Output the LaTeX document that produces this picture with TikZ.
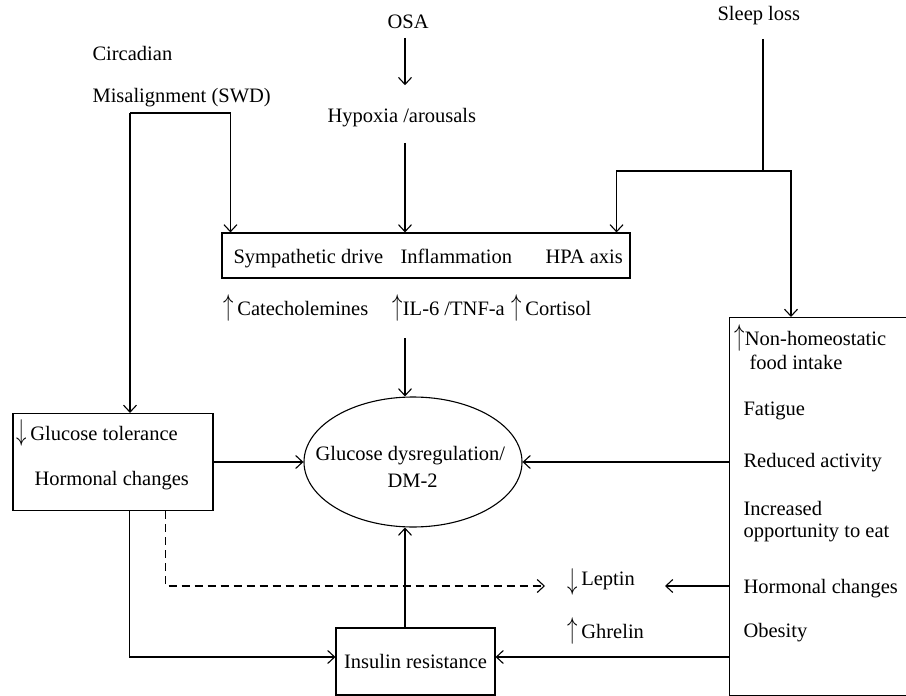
\documentclass[tikz,border=0pt]{standalone}
\usepackage{fontspec}
\setmainfont{Liberation Serif}
\usetikzlibrary{arrows.meta,shapes.geometric}

\newcommand\uparr{\scalebox{1}[1.45]{$\uparrow$}}
\newcommand\dnarr{\scalebox{1}[1.45]{$\downarrow$}}

\begin{document}
\begin{tikzpicture}[x=1pt,y=-1pt,
    font=\fontsize{20.5}{27}\selectfont,
    line width=1.1pt,
    arr/.style={-{Straight Barb[length=7pt,width=13pt]}},
    box/.style={draw,rectangle,inner sep=0pt}]

  \useasboundingbox (0,0) rectangle (906,696);

  % boxes and the ellipse
  \begin{scope}[every node/.style={box}]
    \node[minimum width=408, minimum height=45] (mid) at (426,255.5) {};
    \node[minimum width=200, minimum height=97] (glutol) at (113,462) {};
    \node[minimum width=159, minimum height=67] (insres) at (415.5,661.5) {Insulin resistance};
    \node[anchor=north west, minimum width=200, minimum height=378] (rbox) at (729,317) {};
    \node[ellipse, minimum width=218, minimum height=130] (gluc) at (413,462) {};
  \end{scope}

  % texts
  \begin{scope}[every node/.style={inner sep=0pt, anchor=base west}]
    \node (osa)    at (387,28)  {OSA};
    \node (hyp)    at (327,122) {Hypoxia /arousals};
    \node (circ)   at (92,60)   {Circadian};
    \node (misal)  at (92,102)  {Misalignment (SWD)};
    \node (sleep)  at (717,20)  {Sleep loss};

    \node (symp)   at (233,263) {Sympathetic drive};
    \node (infl)   at (400,263) {Inflammation};
    \node (hpa)    at (545,263) {HPA axis};

    \node (cat)    at (223,315) {\uparr\,Catecholemines};
    \node (il6)    at (392,315) {\uparr IL-6 /TNF-a};
    \node (cort)   at (511,315) {\uparr\,Cortisol};

    \node (gtol)   at (16,440)  {\dnarr\,Glucose tolerance};
    \node (hormL)  at (34,485)  {Hormonal changes};

    \node (gdys)   at (315,460) {Glucose dysregulation/};
    \node (dm)     at (387,487) {DM-2};

    \node (lep)    at (567,585) {\raisebox{-4pt}{\dnarr}\,Leptin};
    \node (ghr)    at (567,638) {\uparr\,Ghrelin};

    \node (nonh)   at (734,345) {\uparr Non-homeostatic};
    \node (food)   at (749,369) {food intake};
    \node (fat)    at (743,415) {Fatigue};
    \node (red)    at (743,467) {Reduced activity};
    \node (incr)   at (743,515) {Increased};
    \node (opp)    at (743,537) {opportunity to eat};
    \node (hormR)  at (743,593) {Hormonal changes};
    \node (obes)   at (743,637) {Obesity};
  \end{scope}

  \coordinate (cj) at (130,113);
  \coordinate (sj) at (763,171);
  \coordinate (ilf) at (405,338);
  \coordinate (lepin) at (545,586);
  \coordinate (lepout) at (665,586);
  \coordinate (insy) at ([yshift=4.5pt]insres.west);

  % connectors
  \draw[arr, shorten <=9pt, shorten >=22pt] (osa.south -| ilf) -- (hyp.north -| ilf);
  \draw[arr, shorten <=16pt] (hyp.south -| ilf) -- (mid.north -| ilf);
  \draw[arr] (cj) -| ([xshift=9pt]mid.north west);
  \draw[arr] (cj) -- (cj |- glutol.north);
  \draw[shorten <=14pt] (sleep.south -| sj) -- (sj);
  \draw[arr] (sj) -| ([xshift=-14pt]mid.north east);
  \draw[arr] (sj) -| ([xshift=62pt]rbox.north west);
  \draw[arr] (ilf) -- (ilf |- gluc.north);
  \draw[arr] (glutol) -- (gluc);
  \draw[arr] (rbox.west |- gluc) -- (gluc);
  \draw[arr] (insres.north -| ilf) -- (ilf |- gluc.south);
  \draw[arr, dash pattern=on 8pt off 5pt] ([xshift=153pt]glutol.south west) |- (lepin);
  \draw[arr] (rbox.west |- lepin) -- (lepout);
  \draw[arr] ([xshift=117pt]glutol.south west) |- (insy);
  \draw[arr] (rbox.west |- insy) -- (insres.east |- insy);

\end{tikzpicture}
\end{document}
